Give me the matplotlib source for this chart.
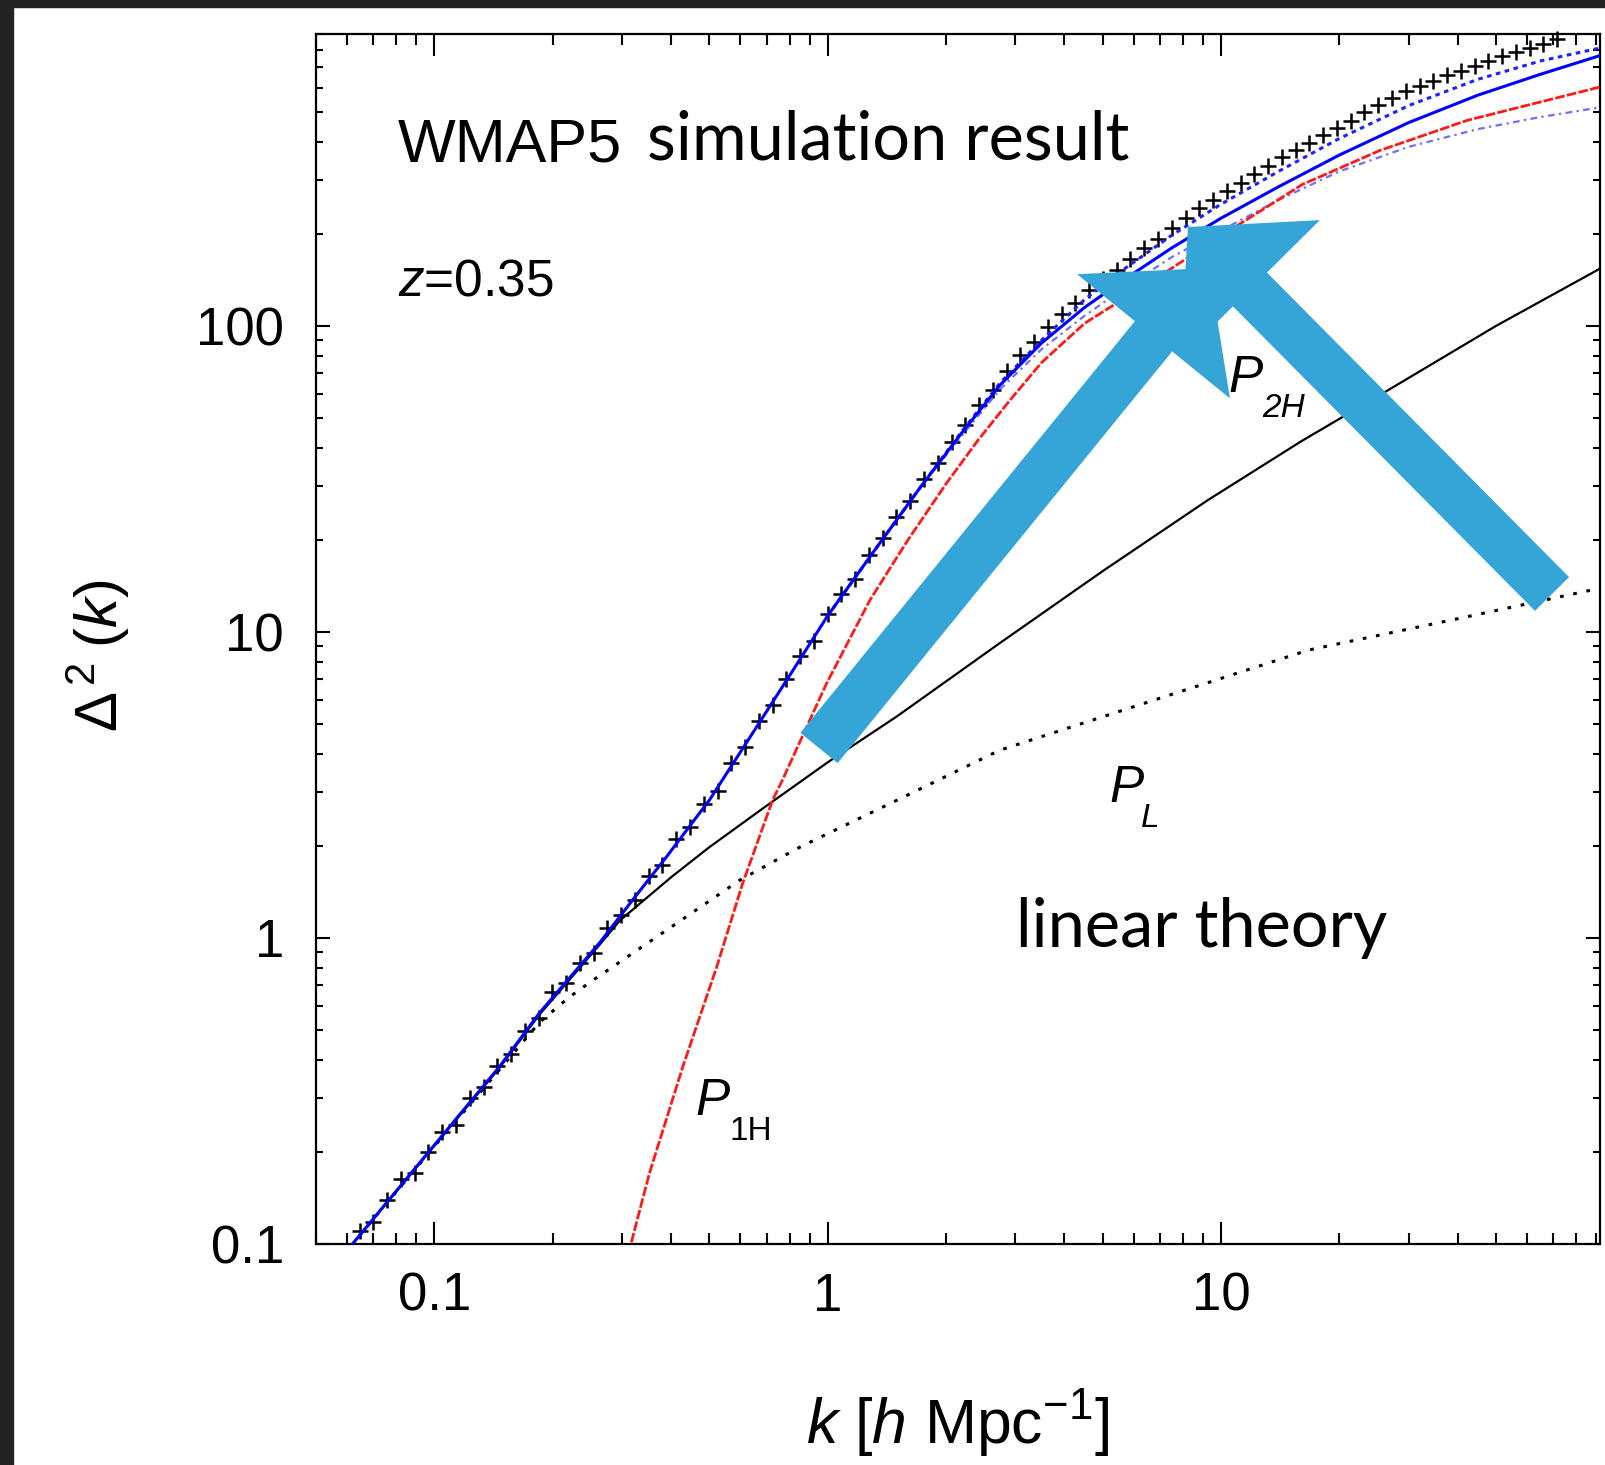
"""Nonlinear matter power spectrum at z=0.35 (WMAP5): simulation vs halo model terms."""

import matplotlib

matplotlib.use("Agg")
import matplotlib.pyplot as plt
from matplotlib.patches import FancyArrow, Rectangle
from matplotlib.ticker import NullFormatter
from matplotlib.transforms import Affine2D

W, H = 1605, 1465

# simulation points (black crosses)
k_sim = [0.0646, 0.0700, 0.0759, 0.0822, 0.0891, 0.0966, 0.1047, 0.1135, 0.1230,
         0.1334, 0.1445, 0.1567, 0.1698, 0.1841, 0.1995, 0.2163, 0.2344, 0.2541,
         0.2754, 0.2985, 0.3236, 0.3508, 0.3802, 0.4121, 0.4467, 0.4842, 0.5248,
         0.5689, 0.6166, 0.6683, 0.7244, 0.7852, 0.8511, 0.9226, 1.000, 1.084,
         1.175, 1.274, 1.380, 1.496, 1.622, 1.758, 1.906, 2.065, 2.239, 2.427,
         2.630, 2.851, 3.090, 3.350, 3.631, 3.936, 4.266, 4.624, 5.012, 5.433,
         5.888, 6.383, 6.918, 7.499, 8.128, 8.811, 9.550, 10.35, 11.22, 12.16,
         13.18, 14.29, 15.49, 16.79, 18.20, 19.72, 21.38, 23.17, 25.12, 27.23,
         29.51, 31.99, 34.67, 37.58, 40.74, 44.16, 47.86, 51.88, 56.23, 60.95,
         66.07, 71.61]
d_sim = [0.110, 0.118, 0.139, 0.163, 0.170, 0.200, 0.232, 0.245, 0.301,
         0.325, 0.381, 0.418, 0.497, 0.546, 0.667, 0.711, 0.830, 0.895,
         1.077, 1.190, 1.330, 1.589, 1.734, 2.101, 2.301, 2.733, 3.032,
         3.724, 4.223, 5.129, 5.762, 7.015, 8.349, 9.376, 11.43, 13.36,
         14.91, 17.82, 20.35, 23.75, 26.76, 31.54, 35.73, 41.91, 47.41, 55.14,
         61.98, 71.32, 80.14, 88.96, 99.13, 109.3, 119.2, 130.9, 142.3, 152.9,
         166.1, 179.9, 192.8, 208.9, 224.9, 242.3, 257.9, 277.2, 293.3, 314.0,
         332.4, 355.6, 374.8, 395.0, 421.0, 443.7, 467.9, 499.0, 526.2, 555.0,
         585.3, 608.3, 629.8, 659.7, 683.2, 707.4, 734.1, 762.3, 785.0, 809.0,
         832.0, 866.0]

# total model (blue solid)
k_fit = [0.05, 0.0619, 0.0989, 0.146, 0.185, 0.263, 0.319, 0.389, 0.501, 0.66, 0.80,
         1.0, 1.36, 1.73, 2.2, 2.74, 3.5, 4.5, 5.73, 7.5, 10, 14, 20, 30, 45, 65, 92]
d_fit = [0.0718, 0.100, 0.207, 0.378, 0.569, 0.964, 1.33, 1.84, 2.83, 4.90, 7.20,
         11.3, 19.6, 30.0, 45.0, 64.0, 88.0, 115, 143, 180, 225, 285, 362, 462, 568, 665, 765]

# model variants (blue dotted)
k_var = [1.0, 1.36, 1.73, 2.2, 2.74, 3.5, 4.5, 5.73, 7.5, 10, 14, 20, 30, 45, 65, 92]
d_var_hi = [11.3, 19.6, 30, 45.5, 65, 90, 122, 155, 198, 250, 320, 410, 525, 640, 735, 810]
d_var_lo = [11.3, 19.6, 30, 44, 62, 84, 108, 134, 168, 205, 258, 320, 385, 440, 482, 518]

# one-halo term (red dashed)
k_1h = [0.30, 0.316, 0.352, 0.428, 0.522, 0.608, 0.725, 0.767, 0.994, 1.28, 1.6,
        2.0, 2.4, 2.9, 3.5, 4.5, 6.95, 10.5, 16.1, 25.4, 42.3, 92]
d_1h = [0.078, 0.100, 0.170, 0.379, 0.803, 1.51, 2.83, 3.28, 6.8, 12.7, 20.0,
        30.5, 42.0, 57.0, 76.0, 102, 145, 205, 290, 375, 470, 604]

# two-halo term (black solid)
k_2h = [0.05, 0.0619, 0.0989, 0.146, 0.185, 0.263, 0.296, 0.40, 0.50, 0.684, 1.0,
        1.5, 2.74, 5.0, 9.27, 16, 26.1, 50, 92]
d_2h = [0.0718, 0.100, 0.206, 0.375, 0.562, 0.95, 1.14, 1.58, 1.98, 2.65, 3.75,
        5.3, 9.2, 15.8, 27.0, 42, 60.8, 100, 154]

# linear theory (black dotted)
k_lin = [0.05, 0.0619, 0.0989, 0.146, 0.185, 0.22, 0.25, 0.389, 0.6, 0.849, 1.5,
         2.74, 6.0, 16.7, 40, 92]
d_lin = [0.0718, 0.100, 0.205, 0.37, 0.53, 0.64, 0.72, 1.06, 1.55, 1.98, 2.82,
         4.11, 5.7, 8.73, 11.05, 13.9]

plt.rcParams["font.family"] = "Liberation Sans"
plt.rcParams["mathtext.fontset"] = "custom"
plt.rcParams["mathtext.rm"] = "Liberation Sans"
plt.rcParams["mathtext.it"] = "Liberation Sans:italic"
plt.rcParams["mathtext.bf"] = "Liberation Sans:bold"

fig = plt.figure(figsize=(W / 100, H / 100), dpi=100, facecolor="white")
ax = fig.add_axes([316 / W, 221 / H, (1600 - 316) / W, (1244 - 34) / H])
ax.set_xscale("log")
ax.set_yscale("log")

ax.plot(k_sim, d_sim, ls="none", marker="+", ms=11, mew=1.8, color="black",
        clip_on=False, zorder=2)
ax.plot(k_lin, d_lin, color="black", lw=2.2, ls=(0, (1.2, 3.2)), zorder=2)
ax.plot(k_2h, d_2h, color="black", lw=1.6, zorder=2)
ax.plot(k_var, d_var_lo, color="#4a4aff", lw=1.6, ls=(0, (3, 2, 1, 2)), alpha=0.8, zorder=2)
ax.plot(k_1h, d_1h, color="#ff1a1a", lw=2.0, ls=(0, (3.5, 0.8)), zorder=3)
ax.plot(k_var, d_var_hi, color="#2020ff", lw=2.2, ls=(0, (1.5, 1.5)), zorder=3)
ax.plot(k_fit, d_fit, color="#0000ff", lw=2.2, zorder=3)

ax.set_xlim(0.05, 92)
ax.set_ylim(0.1, 900)
ax.set_xticks([0.1, 1, 10], ["0.1", "1", "10"])
ax.set_yticks([0.1, 1, 10, 100], ["0.1", "1", "10", "100"])
ax.xaxis.set_minor_formatter(NullFormatter())
ax.yaxis.set_minor_formatter(NullFormatter())
ax.tick_params(which="both", direction="in", top=True, right=True, width=1.5,
               labelsize=38)
ax.tick_params(axis="x", which="major", length=16, pad=20)
ax.tick_params(axis="x", which="minor", length=8)
ax.tick_params(axis="y", which="major", length=10, pad=23)
ax.tick_params(axis="y", which="minor", length=5)
for sp in ax.spines.values():
    sp.set_linewidth(1.6)

# pixel coordinates measured from the top-left corner of the image
px = Affine2D().scale(1.0 / W, -1.0 / H).translate(0, 1) + fig.transFigure

ax.text(958, 1443, r"$k$ [$h$ Mpc$^{-1}$]", transform=px, ha="center",
        va="baseline", fontsize=45)
ax.text(98, 656, r"$\Delta^{\,2}\;(k)$", transform=px, rotation=90, ha="center",
        va="center", fontsize=43)

ax.text(398, 162, "WMAP5", transform=px, fontsize=44, va="baseline")
ax.text(398, 295, r"$z$=0.35", transform=px, fontsize=37, va="baseline")
ax.text(647, 159, "simulation result", transform=px, fontsize=48, family="Lato",
        va="baseline")
ax.text(1016, 947, "linear theory", transform=px, fontsize=48, family="Lato",
        va="baseline")

for x0, y0, sub, dx, style in [(1109, 802, "L", 32, "italic"),
                               (1228, 392, "2H", 34, "italic"),
                               (695, 1115, "1H", 35, "normal")]:
    ax.text(x0, y0, "P", transform=px, fontsize=37, style="italic", va="baseline",
            zorder=6)
    ax.text(x0 + dx, y0 + 25, sub, transform=px, fontsize=24, style=style,
            va="baseline", zorder=6)

for (x0, y0), (x1, y1) in [((819, 748), (1209, 268)), ((1552, 594), (1188, 227))]:
    arr = FancyArrow(x0, y0, x1 - x0, y1 - y0, width=48, head_width=197,
                     head_length=88, length_includes_head=True, transform=px,
                     color="#35a5d8", lw=0, clip_on=False, zorder=5)
    ax.add_patch(arr)

# dark frame of the screenshot
fig.patches.append(Rectangle((0, 1 - 7 / H), 1, 7 / H, transform=fig.transFigure,
                             color="#222222", zorder=10))
fig.patches.append(Rectangle((0, 0), 13 / W, 1, transform=fig.transFigure,
                             color="#222222", zorder=10))

fig.savefig("out.png", dpi=100, facecolor="white")
